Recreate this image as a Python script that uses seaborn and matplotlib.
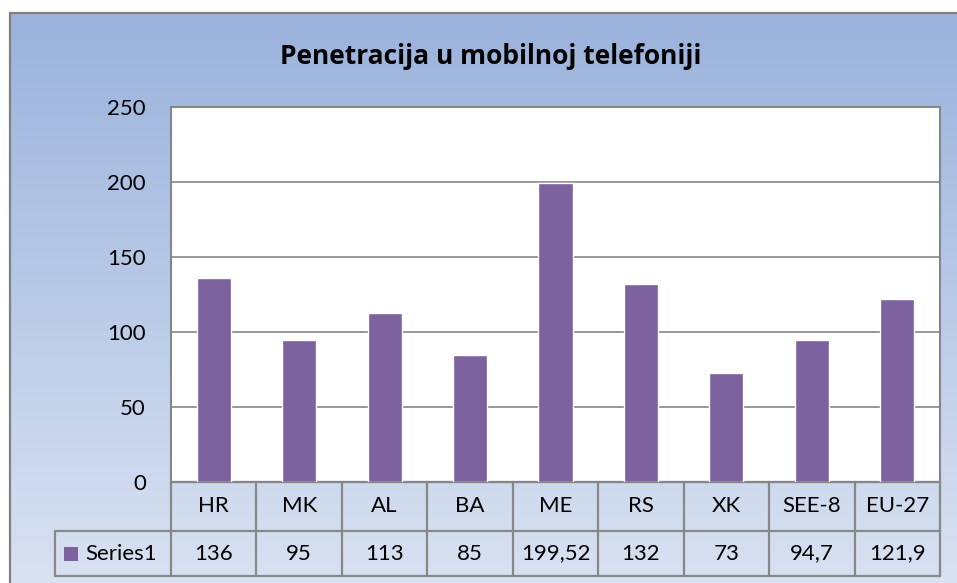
import numpy as np
import pandas as pd
import matplotlib
matplotlib.use("Agg")
import matplotlib.pyplot as plt
import matplotlib.transforms as mtransforms
from matplotlib.patches import Rectangle
from matplotlib.lines import Line2D
import seaborn as sns

categories = ["HR", "MK", "AL", "BA", "ME", "RS", "XK", "SEE-8", "EU-27"]
values = [136, 95, 113, 85, 199.52, 132, 73, 94.7, 121.9]
value_labels = ["136", "95", "113", "85", "199,52", "132", "73", "94,7", "121,9"]
series_name = "Series1"
title = "Penetracija u mobilnoj telefoniji"
yticks = [0, 50, 100, 150, 200, 250]

sns.set_theme(style="white")
plt.rcParams["font.family"] = ["Lato", "DejaVu Sans"]

W, H = 957, 583
fig = plt.figure(figsize=(W / 100, H / 100), dpi=100)
fig.patch.set_facecolor("white")

# background gradient panel (extends past the right and bottom figure edges)
bg = fig.add_axes([10 / W, -0.02, (W - 10) / W + 0.03, (H - 13) / H + 0.02], zorder=0)
grad = np.linspace(0, 1, 256).reshape(-1, 1)
top = np.array([0x97, 0xB0, 0xDB]) / 255
bot = np.array([0xDD, 0xE5, 0xF3]) / 255
img = top[None, None, :] * (1 - grad[:, :, None]) + bot[None, None, :] * grad[:, :, None]
img = np.repeat(img, 4, axis=1)
bg.imshow(img, aspect="auto", extent=[-0.05, 1.05, -0.05, 1.05], interpolation="bilinear")
bg.set_xlim(0, 1); bg.set_ylim(0, 1)
bg.set_xticks([]); bg.set_yticks([])
for s in bg.spines.values():
    s.set_visible(False)
# chart frame: left and top border only
fig.add_artist(Line2D([10 / W, 10 / W], [0, 1 - 13 / H], color="#808080", lw=1.6))
fig.add_artist(Line2D([10 / W, 1], [1 - 13 / H, 1 - 13 / H], color="#808080", lw=1.6))

L, R, T, B = 171, 940, 107, 482
ax = fig.add_axes([L / W, (H - B) / H, (R - L) / W, (B - T) / H], zorder=1)
ax.set_facecolor("white")

df = pd.DataFrame({"cat": categories, "val": values})
bar_color = "#7D62A0"
sns.barplot(data=df, x="cat", y="val", color=bar_color, saturation=1, width=0.4, ax=ax, zorder=3)
ax.set_xlim(-0.5, len(categories) - 0.5)
ax.set_ylim(0, 250)
ax.set_yticks(yticks)
ax.set_yticklabels([str(t) for t in yticks], fontsize=16, color="black")
ax.tick_params(axis="y", length=0, pad=18)
ax.set_xticks([])
ax.set_xlabel(""); ax.set_ylabel("")
ax.yaxis.grid(True, color="#868686", linewidth=1.2, zorder=0)
ax.set_axisbelow(True)
for s in ax.spines.values():
    s.set_color("#868686")
    s.set_linewidth(1.5)

# data table below
trans = mtransforms.blended_transform_factory(ax.transData, ax.transAxes)
gray = "#888888"
y0 = 0.0
y1 = -(531 - B) / (B - T)
y2 = -(576 - B) / (B - T)
col_w_px = (R - L) / len(categories)
x_left = -0.5 - (L - 55) / col_w_px
lw = 1.6
ax.plot([-0.5, len(categories) - 0.5], [y0, y0], transform=trans, clip_on=False, color=gray, lw=lw)
ax.plot([x_left, len(categories) - 0.5], [y1, y1], transform=trans, clip_on=False, color=gray, lw=lw)
ax.plot([x_left, len(categories) - 0.5], [y2, y2], transform=trans, clip_on=False, color=gray, lw=lw)
ax.plot([x_left, x_left], [y1, y2], transform=trans, clip_on=False, color=gray, lw=lw)
for i in range(len(categories) + 1):
    ax.plot([i - 0.5, i - 0.5], [y0, y2], transform=trans, clip_on=False, color=gray, lw=lw)
for i, (c, v) in enumerate(zip(categories, value_labels)):
    ax.text(i, (y0 + y1) / 2, c, transform=trans, ha="center", va="center", fontsize=16, color="black")
    ax.text(i, (y1 + y2) / 2, v, transform=trans, ha="center", va="center", fontsize=16, color="black")

# legend key + series name
key_x = x_left + (64 - 55) / col_w_px
key_w = 14 / col_w_px
key_h = 14 / (B - T)
ym = (y1 + y2) / 2
ax.add_patch(Rectangle((key_x, ym - key_h / 2), key_w, key_h, transform=trans, clip_on=False,
                       facecolor=bar_color, edgecolor="none"))
ax.text(x_left + (85 - 55) / col_w_px, ym, series_name, transform=trans, ha="left", va="center",
        fontsize=16, color="black")

fig.text(491 / W, 1 - 56 / H, title, ha="center", va="center", fontsize=19, fontweight="bold",
         family=["Open Sans", "DejaVu Sans"], color="black")

fig.savefig("out.png", dpi=100)
